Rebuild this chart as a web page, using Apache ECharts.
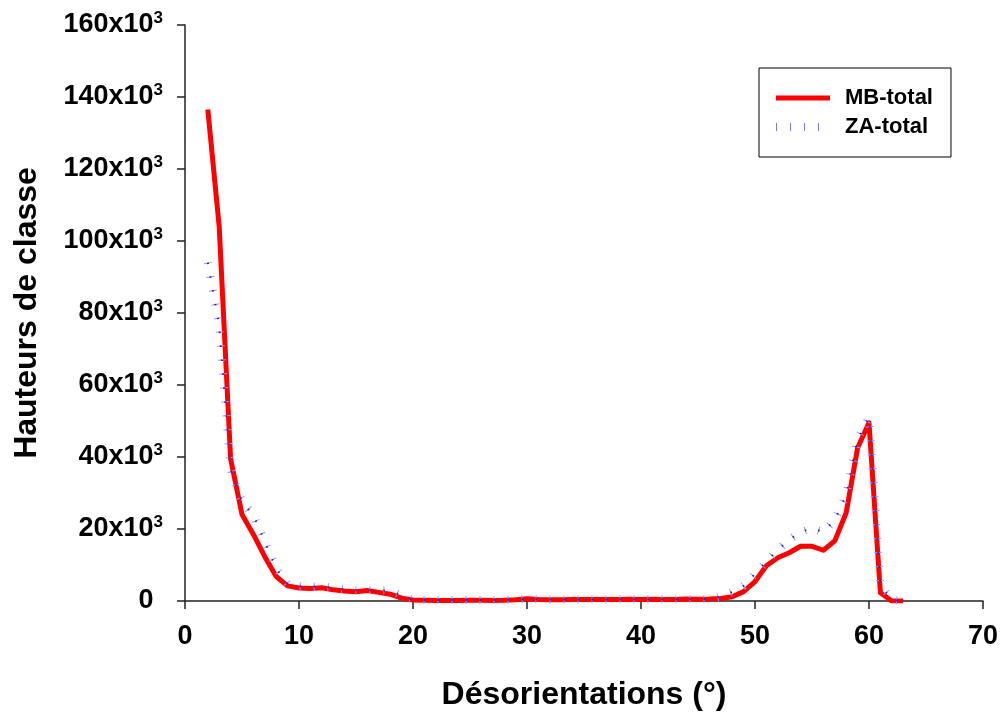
<!DOCTYPE html>
<html>
<head>
<meta charset="utf-8">
<script src="https://cdn.jsdelivr.net/npm/echarts@6/dist/echarts.min.js"></script>
<style>
html,body{margin:0;padding:0;background:#fff;}
#chart{width:1002px;height:718px;}
</style>
</head>
<body>
<div id="chart"></div>
<script>
// Désorientations (°), 2..63
var angles = [2,3,4,5,6,7,8,9,10,11,12,13,14,15,16,17,18,19,20,21,22,23,24,25,26,27,28,29,30,31,32,
  33,34,35,36,37,38,39,40,41,42,43,44,45,46,47,48,49,50,51,52,53,54,55,56,57,58,59,60,61,62,63];
var mbTotal = [136500,104000,39500,24000,18500,12300,6800,4200,3600,3500,3700,3100,2800,2600,2900,2400,1900,800,300,200,
  150,150,150,200,200,150,200,350,650,400,350,350,400,400,400,450,450,500,450,500,400,450,550,500,550,700,
  1200,2600,5400,9800,12000,13400,15200,15200,14100,16700,24500,42500,49500,2300,0,0];
var zaTotal = [94000,76500,36500,27500,23800,16500,9000,4600,4100,4000,4000,3700,3100,3000,3000,3000,2900,1500,300,300,
  300,300,300,300,300,300,300,350,600,450,400,400,400,450,450,450,500,500,500,500,450,500,550,550,600,1200,
  2500,4200,7500,11000,14200,17000,19200,20200,19200,22500,29500,45000,51000,4500,300,0];
var xTicks = [0,10,20,30,40,50,60,70];
var yTicks = [0,20000,40000,60000,80000,100000,120000,140000,160000];

var FONT = '"Liberation Sans", Arial, Helvetica, sans-serif';
function pairs(xs, ys){ return xs.map(function(x,i){ return [x, ys[i]]; }); }

var MB_ICON = 'path://M0,0L0,0M54,14L54,14M0,4.5H54V9.5H0Z';
var ZA_ICON = 'path://M0,0L0,0M54,14L54,14M0,3H1V11H0ZM14,3H15V11H14ZM28,3H29V11H28ZM42,3H43V11H42Z';

var chart = echarts.init(document.getElementById('chart'), null, {renderer:'canvas'});
chart.setOption({
  animation:false,
  backgroundColor:'#ffffff',
  textStyle:{fontFamily:FONT},
  grid:{left:185, right:19, top:25, bottom:117, containLabel:false},
  legend:{
    orient:'vertical',
    left:759, top:68,
    data:[
      {name:'MB-total', icon:MB_ICON, itemStyle:{color:'#ff0000'}},
      {name:'ZA-total', icon:ZA_ICON, itemStyle:{color:'#7878ff'}}
    ],
    backgroundColor:'#ffffff',
    borderColor:'#000000', borderWidth:1,
    padding:[19,18,19,17],
    itemWidth:54, itemHeight:14, itemGap:7,
    textStyle:{fontFamily:FONT, fontSize:22, fontWeight:'bold', color:'#000', lineHeight:22, padding:[0,0,0,10]}
  },
  xAxis:{
    type:'value', min:0, max:70, interval:10,
    name:'Désorientations (°)', nameLocation:'middle', nameGap:78,
    nameTextStyle:{fontFamily:FONT, fontSize:32, fontWeight:'bold', color:'#000'},
    axisLine:{show:true, onZero:false, lineStyle:{color:'#222', width:1.5}},
    axisTick:{show:true, inside:false, length:8, lineStyle:{color:'#222', width:1.5}},
    axisLabel:{fontFamily:FONT, fontSize:27, fontWeight:'bold', color:'#000', margin:22,
      formatter:function(v){ return xTicks.indexOf(v) >= 0 ? String(v) : ''; }},
    splitLine:{show:false}
  },
  yAxis:{
    type:'value', min:0, max:160000, interval:20000,
    name:'Hauteurs de classe', nameLocation:'middle', nameGap:142,
    nameTextStyle:{fontFamily:FONT, fontSize:32, fontWeight:'bold', color:'#000'},
    axisLine:{show:true, onZero:false, lineStyle:{color:'#222', width:1.5}},
    axisTick:{show:true, inside:false, length:8, lineStyle:{color:'#222', width:1.5}},
    axisLabel:{margin:22,
      formatter:function(v){
        if (yTicks.indexOf(v) < 0) return '';
        if (v === 0) return '{n|0}{h|3}';
        return '{n|' + (v/1000) + 'x10}{s|3}';
      },
      rich:{
        n:{fontFamily:FONT, fontSize:27, fontWeight:'bold', color:'#000', lineHeight:30},
        s:{fontFamily:FONT, fontSize:17, fontWeight:'bold', color:'#000', verticalAlign:'top', lineHeight:17},
        h:{fontFamily:FONT, fontSize:17, fontWeight:'bold', color:'rgba(0,0,0,0)', verticalAlign:'top', lineHeight:17}
      }
    },
    splitLine:{show:false}
  },
  series:[
    {
      name:'MB-total', type:'line', data:pairs(angles, mbTotal),
      symbol:'none', showSymbol:false, smooth:false,
      lineStyle:{color:'#ff0000', width:5, join:'round'},
      itemStyle:{color:'#ff0000'}, z:2
    },
    {
      name:'ZA-total', type:'line', data:pairs(angles, zaTotal),
      symbol:'none', showSymbol:false, smooth:false,
      lineStyle:{color:'#9098ff', width:8, type:[1,13], cap:'butt'},
      itemStyle:{color:'#9098ff'}, z:3
    },
    {
      name:'ZA-dots', type:'line', data:pairs(angles, zaTotal),
      symbol:'none', showSymbol:false, smooth:false,
      lineStyle:{color:'#2020e0', width:2, type:[1.5,12.5], cap:'butt'},
      itemStyle:{color:'#2020e0'}, z:4
    }
  ]
});
</script>
</body>
</html>
